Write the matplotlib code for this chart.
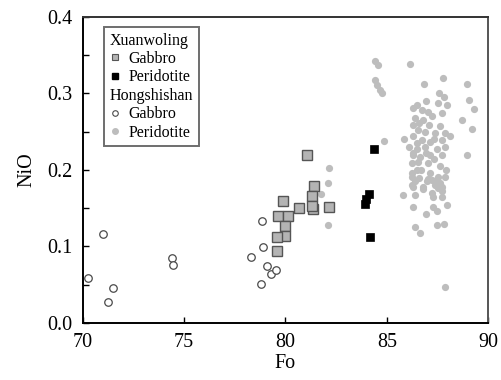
import matplotlib
matplotlib.use("Agg")
import matplotlib.pyplot as plt
from matplotlib.lines import Line2D
from matplotlib.ticker import MultipleLocator

plt.rcParams['font.family'] = ['Liberation Serif', 'DejaVu Serif']

# Xuanwoling gabbro (grey squares)
xw_gab_fo = [81.07, 81.42, 81.32, 81.37, 81.31, 82.14, 80.67, 79.88, 79.65,
             80.14, 79.99, 79.99, 79.60, 79.60]
xw_gab_ni = [0.220, 0.179, 0.166, 0.149, 0.153, 0.151, 0.150, 0.159, 0.140,
             0.140, 0.127, 0.114, 0.112, 0.094]

# Xuanwoling peridotite (black squares)
xw_per_fo = [84.36, 84.11, 83.99, 83.92, 84.16]
xw_per_ni = [0.227, 0.168, 0.162, 0.156, 0.112]

# Hongshishan gabbro (open circles)
hs_gab_fo = [70.28, 71.03, 71.24, 71.49, 74.41, 74.46, 78.30, 78.83, 78.89,
             78.81, 79.07, 79.30, 79.53]
hs_gab_ni = [0.059, 0.116, 0.027, 0.046, 0.085, 0.076, 0.086, 0.133, 0.099,
             0.051, 0.074, 0.064, 0.069]

# Hongshishan peridotite (grey dots)
hs_per_fo = [82.14, 82.08, 81.75, 82.09,
             84.41, 84.57, 86.13, 84.39, 84.52, 84.66, 84.74, 86.82, 87.74,
             88.93, 89.06, 89.29, 88.68, 89.17, 88.93, 84.85, 85.84, 87.58,
             87.81, 87.53, 87.94, 86.30, 86.71, 87.04, 87.70, 86.38, 86.79,
             86.30, 87.08, 87.61, 86.54, 86.87, 87.36, 87.86, 88.10, 86.30,
             86.71, 87.12, 87.70, 86.10, 86.46, 86.87, 87.45, 87.86, 86.30,
             86.63, 87.12, 87.70, 86.21, 86.54, 87.04, 86.21, 86.46, 86.21,
             87.12, 87.53, 87.86, 87.20, 86.30, 86.79, 87.36, 87.70,
             86.30, 86.21, 86.95, 87.36, 87.53, 87.70, 86.79, 85.80, 86.38,
             87.28, 87.70, 86.30, 87.28, 87.94, 87.45, 86.92, 86.38, 86.63,
             87.45, 87.81, 87.86,
             86.50, 86.90, 87.20, 86.60, 87.30, 86.50, 86.90, 87.30, 87.60,
             86.70, 87.00, 86.40, 87.60, 87.20, 86.60, 87.90]
hs_per_ni = [0.203, 0.183, 0.168, 0.128,
             0.343, 0.337, 0.339, 0.318, 0.311, 0.305, 0.301, 0.312, 0.320,
             0.312, 0.292, 0.280, 0.265, 0.254, 0.220, 0.238, 0.241, 0.301,
             0.296, 0.287, 0.285, 0.281, 0.278, 0.276, 0.274, 0.268, 0.265,
             0.259, 0.259, 0.257, 0.252, 0.250, 0.248, 0.248, 0.244, 0.244,
             0.239, 0.237, 0.239, 0.230, 0.228, 0.230, 0.228, 0.230, 0.220,
             0.217, 0.220, 0.220, 0.209, 0.211, 0.209, 0.196, 0.200, 0.191,
             0.196, 0.191, 0.191, 0.187, 0.178, 0.178, 0.180, 0.178,
             0.222, 0.180, 0.185, 0.185, 0.176, 0.172, 0.175, 0.167, 0.167,
             0.165, 0.165, 0.152, 0.151, 0.154, 0.146, 0.143, 0.126, 0.118,
             0.128, 0.129, 0.047,
             0.285, 0.290, 0.270, 0.262, 0.240, 0.235, 0.222, 0.214, 0.205,
             0.200, 0.188, 0.185, 0.183, 0.170, 0.190, 0.200]

fig = plt.figure(figsize=(5.01, 3.80), dpi=100)
ax = fig.add_axes([0.1647, 0.15, 0.8103, 0.8053])

ax.plot(hs_per_fo, hs_per_ni, 'o', ms=5.2, mfc='#bdbdbd', mec='#bdbdbd', mew=0)
ax.plot(hs_gab_fo, hs_gab_ni, 'o', ms=5.4, mfc='white', mec='#4a4a4a', mew=0.9)
ax.plot(xw_gab_fo, xw_gab_ni, 's', ms=6.6, mfc='#b4b4b4', mec='#555555', mew=1.0)
ax.plot(xw_per_fo, xw_per_ni, 's', ms=6.2, mfc='black', mec='black', mew=0.5)

ax.set_xlim(70, 90)
ax.set_ylim(0, 0.4)
ax.xaxis.set_major_locator(MultipleLocator(5))
ax.yaxis.set_major_locator(MultipleLocator(0.1))
ax.yaxis.set_minor_locator(MultipleLocator(0.05))
ax.yaxis.set_major_formatter(plt.FormatStrFormatter('%.1f'))
ax.tick_params(axis='both', which='both', direction='in', labelsize=14.5,
               top=False, right=False)
ax.tick_params(axis='both', which='major', length=4, width=1, pad=7)
ax.tick_params(axis='y', which='minor', length=4, width=1)

for s in ax.spines.values():
    s.set_linewidth(1.4)
ax.spines['right'].set_color('#555555')
ax.spines['top'].set_color('#333333')

ax.set_xlabel('Fo', fontsize=14.5, labelpad=2)
ax.set_ylabel('NiO', fontsize=14.5, labelpad=8)

# legend with two group headers
blank = Line2D([], [], linestyle='none')
handles = [
    blank,
    Line2D([], [], ls='none', marker='s', ms=5, mfc='#b4b4b4', mec='#555555', mew=0.8),
    Line2D([], [], ls='none', marker='s', ms=5, mfc='black', mec='black'),
    blank,
    Line2D([], [], ls='none', marker='o', ms=4, mfc='white', mec='#4a4a4a', mew=0.8),
    Line2D([], [], ls='none', marker='o', ms=4, mfc='#bdbdbd', mec='#bdbdbd'),
]
labels = ['Xuanwoling', 'Gabbro', 'Peridotite', 'Hongshishan', 'Gabbro', 'Peridotite']
leg = ax.legend(handles, labels, loc='upper left', bbox_to_anchor=(0.053, 0.967),
                borderaxespad=0, fontsize=11.5, handlelength=0.7, handletextpad=0.5,
                labelspacing=0.15, borderpad=0.35, fancybox=False, framealpha=1)
leg.get_frame().set_edgecolor('#6e6e6e')
leg.get_frame().set_linewidth(1.4)

# pull the header rows left so they start where the markers do
for row, text in zip(leg._legend_handle_box.get_children()[0].get_children(), labels):
    if text in ('Xuanwoling', 'Hongshishan'):
        row.get_children()[0].set_width(0)
        row.sep = 0

fig.savefig('out.png', dpi=100)
